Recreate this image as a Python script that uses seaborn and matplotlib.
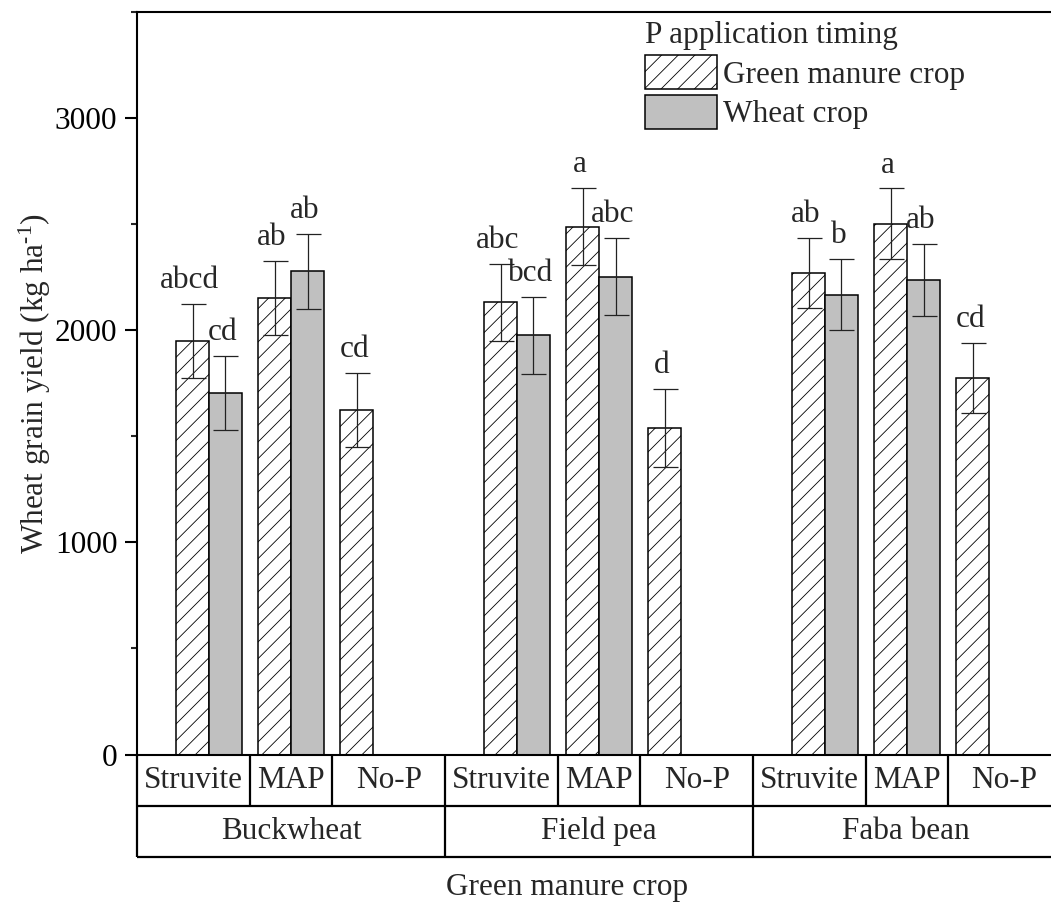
import numpy as np
import pandas as pd
import matplotlib
matplotlib.use("Agg")
import matplotlib.pyplot as plt
from matplotlib.patches import Patch
import seaborn as sns

# values
green_manure = ["Buckwheat", "Field pea", "Faba bean"]
p_source = ["Struvite", "MAP", "No-P"]
gm_yield = [1948, 2152, 1625, 2130, 2487, 1539, 2269, 2500, 1774]
gm_err = [175, 175, 174, 183, 182, 182, 165, 167, 166]
wheat_yield = [1703, 2277, np.nan, 1975, 2251, np.nan, 2167, 2236, np.nan]
wheat_err = [176, 176, np.nan, 183, 181, np.nan, 166, 168, np.nan]
gm_letters = ["abcd", "ab", "cd", "abc", "a", "d", "ab", "a", "cd"]
wheat_letters = ["cd", "ab", "", "bcd", "abc", "", "b", "ab", ""]
timing = ["Green manure crop", "Wheat crop"]

# slot layout (three slots per green manure crop, gap between crops)
slot_pos = np.array([0, 1, 2, 3.75, 4.75, 5.75, 7.5, 8.5, 9.5])

rows = []
for i in range(9):
    rows.append((slot_pos[i], timing[0], gm_yield[i], gm_err[i], gm_letters[i]))
    if not np.isnan(wheat_yield[i]):
        rows.append((slot_pos[i], timing[1], wheat_yield[i], wheat_err[i], wheat_letters[i]))
df = pd.DataFrame(rows, columns=["pos", "timing", "yield", "err", "letter"])

sns.set_theme(style="ticks")
plt.rcParams["font.family"] = ["Liberation Serif", "DejaVu Serif"]
plt.rcParams["mathtext.fontset"] = "custom"
plt.rcParams["mathtext.rm"] = "Liberation Serif"
plt.rcParams["mathtext.it"] = "Liberation Serif:italic"
plt.rcParams["hatch.color"] = "black"
plt.rcParams["hatch.linewidth"] = 0.6
fs = 22.5

fig = plt.figure(figsize=(10.51, 9.07), dpi=100)
ax = fig.add_axes([0.1301, 0.1681, 0.8776, 0.8190])

sns.barplot(data=df, x="pos", y="yield", hue="timing", hue_order=timing,
            palette={timing[0]: "white", timing[1]: "#C0C0C0"},
            native_scale=True, errorbar=None, edgecolor="black",
            linewidth=1.1, legend=False, ax=ax)

for cont, lev in zip(ax.containers, timing):
    sub = df[df["timing"] == lev].sort_values("pos")
    bars = sorted(cont.patches, key=lambda b: b.get_x())
    xs = []
    for b in bars:
        if lev == timing[0]:
            b.set_hatch("//")
        xs.append(b.get_x() + b.get_width() / 2)
    ax.errorbar(xs, sub["yield"], yerr=sub["err"], fmt="none", ecolor="#222222",
                elinewidth=0.9, capsize=9, capthick=0.9, zorder=5)
    for x, y, e, t in zip(xs, sub["yield"], sub["err"], sub["letter"]):
        ax.annotate(t, (x, y + e), xytext=(-2, 11.5), textcoords="offset points",
                    ha="center", va="baseline", fontsize=fs)

left = slot_pos[0] - 0.88
right = slot_pos[-1] + 0.85
ax.set_xlim(left, right)
ax.set_ylim(0, 3500)
ax.set_xticks([])
ax.set_xlabel("")
ax.set_yticks([0, 1000, 2000, 3000])
ax.set_yticks(np.arange(500, 3501, 1000), minor=True)
ax.tick_params(axis="y", which="major", length=9, width=1.5, direction="out",
               labelsize=fs, pad=5, colors="black")
ax.tick_params(axis="y", which="minor", length=4.5, width=1.5, direction="out")
ax.set_ylabel(r"Wheat grain yield (kg ha$^{\text{-1}}$)", fontsize=fs, labelpad=1)
for s in ["left", "top", "bottom"]:
    ax.spines[s].set_linewidth(1.5)
    ax.spines[s].set_color("black")
ax.spines["right"].set_visible(False)

# category table under the x axis
tr = ax.get_xaxis_transform()
r1, r2 = -0.0693, -0.1376
mids = (slot_pos[:-1] + slot_pos[1:]) / 2
line_kw = dict(color="black", lw=1.6, transform=tr, clip_on=False, solid_capstyle="butt")
ax.plot([left, right], [r1, r1], **line_kw)
ax.plot([left, right], [r2, r2], **line_kw)
ax.plot([left, left], [0, r2], **line_kw)
for j, m in enumerate(mids):
    ax.plot([m, m], [0, r2 if j in (2, 5) else r1], **line_kw)
cell_edges = np.concatenate([[left], mids, [right]])
for i in range(9):
    ax.text((cell_edges[i] + cell_edges[i + 1]) / 2, r1 / 2, p_source[i % 3],
            transform=tr, ha="center", va="center", fontsize=fs)
grp_edges = [left, mids[2], mids[5], right]
for g in range(3):
    ax.text((grp_edges[g] + grp_edges[g + 1]) / 2, (r1 + r2) / 2, green_manure[g],
            transform=tr, ha="center", va="center", fontsize=fs)
ax.text(4.36, -0.1796, "Green manure crop", transform=tr, ha="center",
        va="center", fontsize=fs)

handles = [Patch(facecolor="white", edgecolor="black", hatch="//", linewidth=1.1),
           Patch(facecolor="#C0C0C0", edgecolor="black", linewidth=1.1)]
ax.legend(handles, timing, title="P application timing", loc="upper left",
          bbox_to_anchor=(645 / 1051, 1 - 21 / 907), bbox_transform=fig.transFigure,
          frameon=False, fontsize=fs, title_fontsize=fs, borderpad=0,
          borderaxespad=0, handlelength=2.3, handleheight=1.3,
          labelspacing=0.16, handletextpad=0.2, alignment="left")

fig.savefig("out.png", dpi=100)
